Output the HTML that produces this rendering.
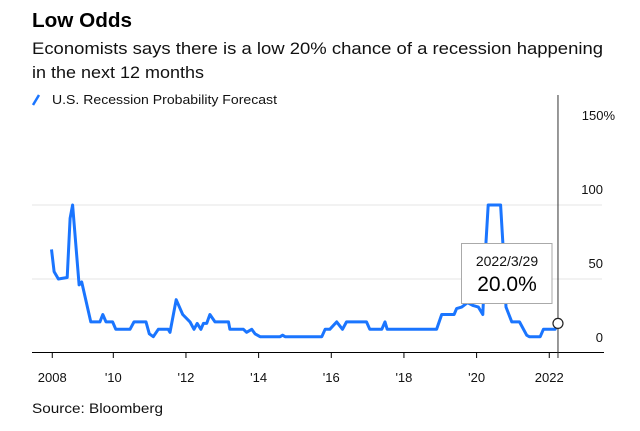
<!DOCTYPE html>
<html><head><meta charset="utf-8"><style>
html,body{margin:0;padding:0;background:#fff;}
svg{display:block;font-family:"Liberation Sans",sans-serif;}
</style></head><body>
<svg id="chart" width="640" height="431" viewBox="0 0 640 431" xmlns="http://www.w3.org/2000/svg">
<text x="32" y="27" font-size="20" font-weight="bold" fill="#000" textLength="100" lengthAdjust="spacingAndGlyphs">Low Odds</text>
<text x="32" y="54" font-size="17" fill="#111" textLength="571" lengthAdjust="spacingAndGlyphs">Economists says there is a low 20% chance of a recession happening</text>
<text x="32" y="78" font-size="17" fill="#111" textLength="172" lengthAdjust="spacingAndGlyphs">in the next 12 months</text>
<line x1="33" y1="105" x2="39" y2="95" stroke="#1a75ff" stroke-width="2.5"/>
<text x="52" y="104" font-size="13" fill="#111" textLength="225" lengthAdjust="spacingAndGlyphs">U.S. Recession Probability Forecast</text>
<g id="grid"></g>
<g id="axes"></g>
<path id="line" fill="none" stroke="#1a75ff" stroke-width="3" stroke-linejoin="round"/>
<g id="hover"></g>
<text x="32" y="413" font-size="14" fill="#111" textLength="131" lengthAdjust="spacingAndGlyphs">Source: Bloomberg</text>
</svg>
<script>
const years = [2008.30,2008.37,2008.49,2008.73,2008.81,2008.88,2009.06,2009.13,2009.38,2009.63,2009.71,2009.80,2009.98,2010.07,2010.46,2010.57,2010.90,2010.99,2011.10,2011.24,2011.51,2011.56,2011.73,2011.91,2012.11,2012.22,2012.31,2012.41,2012.48,2012.57,2012.66,2012.80,2013.17,2013.21,2013.58,2013.67,2013.81,2013.90,2014.04,2014.59,2014.66,2014.73,2015.74,2015.83,2015.96,2016.15,2016.31,2016.42,2016.97,2017.06,2017.39,2017.48,2017.54,2018.90,2019.04,2019.38,2019.45,2019.59,2019.75,2019.91,2020.05,2020.17,2020.26,2020.32,2020.66,2020.72,2020.81,2020.97,2021.18,2021.38,2021.45,2021.75,2021.84,2022.16,2022.24];
const values = [70,55,50,51,91,100,46,48,21,21,26,21,21,16,16,21,21,13,11,16,16,14,36,26,21,16,20,16,20,20,26,21,21,16,16,14,16,13,11,11,12,11,11,16,16,21,16,21,21,16,16,21,16,16,26,26,30,31,34,32,31,26,75,100,100,75,31,21,21,12,11,11,16,16,20];
const yTicks = [0,50,100,150];
const yTickLabels = ["0","50","100","150%"];
const xTicks = [2008.32,2010,2012,2014,2016,2018,2020,2022];
const xTickLabels = ["2008","'10","'12","'14","'16","'18","'20","2022"];
const hoverDate = "2022/3/29";
const hoverValue = 20.0;
const hoverYear = 2022.24;

const NS="http://www.w3.org/2000/svg";
const x = yr => 113.3 + (yr-2010)*36.33;
const y = v => 353 - v*1.48;
function mk(tag, attrs, parent, text){
  const e=document.createElementNS(NS,tag);
  for(const k in attrs) e.setAttribute(k,attrs[k]);
  if(text!==undefined) e.textContent=text;
  parent.appendChild(e); return e;
}
const grid=document.getElementById('grid'), axes=document.getElementById('axes'), hov=document.getElementById('hover');
yTicks.forEach((t,i)=>{
  if(t>0 && t<150){
    const g=mk('line',{x1:32,x2:602,y1:y(t),y2:y(t),stroke:'#ededed','stroke-width':1.5},grid);
    
    
  }
  const lbl=yTickLabels[i];
  const ax = lbl.indexOf('%')>=0 ? 615 : 603;
  const l=mk('text',{x:ax,y:y(t)-11,'font-size':13,fill:'#111','text-anchor':'end'},axes,lbl);
  
  
});
const axl=mk('line',{x1:32,x2:604,y1:352.5,y2:352.5,stroke:'#000','stroke-width':1},axes);


xTicks.forEach((t,i)=>{
  const tk=mk('line',{x1:x(t),x2:x(t),y1:352,y2:358,stroke:'#000','stroke-width':1},axes);
  
  
  const l=mk('text',{x:x(t),y:382,'font-size':13,fill:'#111','text-anchor':'middle'},axes,xTickLabels[i]);
  
  
});
document.getElementById('line').setAttribute('d', years.map((yr,i)=>(i?'L':'M')+x(yr).toFixed(1)+' '+y(values[i]).toFixed(1)).join(' '));
const hx=x(hoverYear);
const vl=mk('line',{x1:hx,x2:hx,y1:95,y2:358,stroke:'#333','stroke-width':1},hov);


const dot=mk('circle',{cx:hx,cy:y(hoverValue),r:5,fill:'#fff',stroke:'#222','stroke-width':1.2},hov);


const box=mk('rect',{x:461.5,y:243.5,width:90.5,height:60,fill:'#fff',stroke:'#aaa','stroke-width':1},hov);


const td=mk('text',{x:507,y:266,'font-size':14,fill:'#111','text-anchor':'middle'},hov,hoverDate);


const tv=mk('text',{x:507,y:291,'font-size':21,fill:'#000','text-anchor':'middle'},hov,hoverValue.toFixed(1)+'%');


</script>
</body></html>
